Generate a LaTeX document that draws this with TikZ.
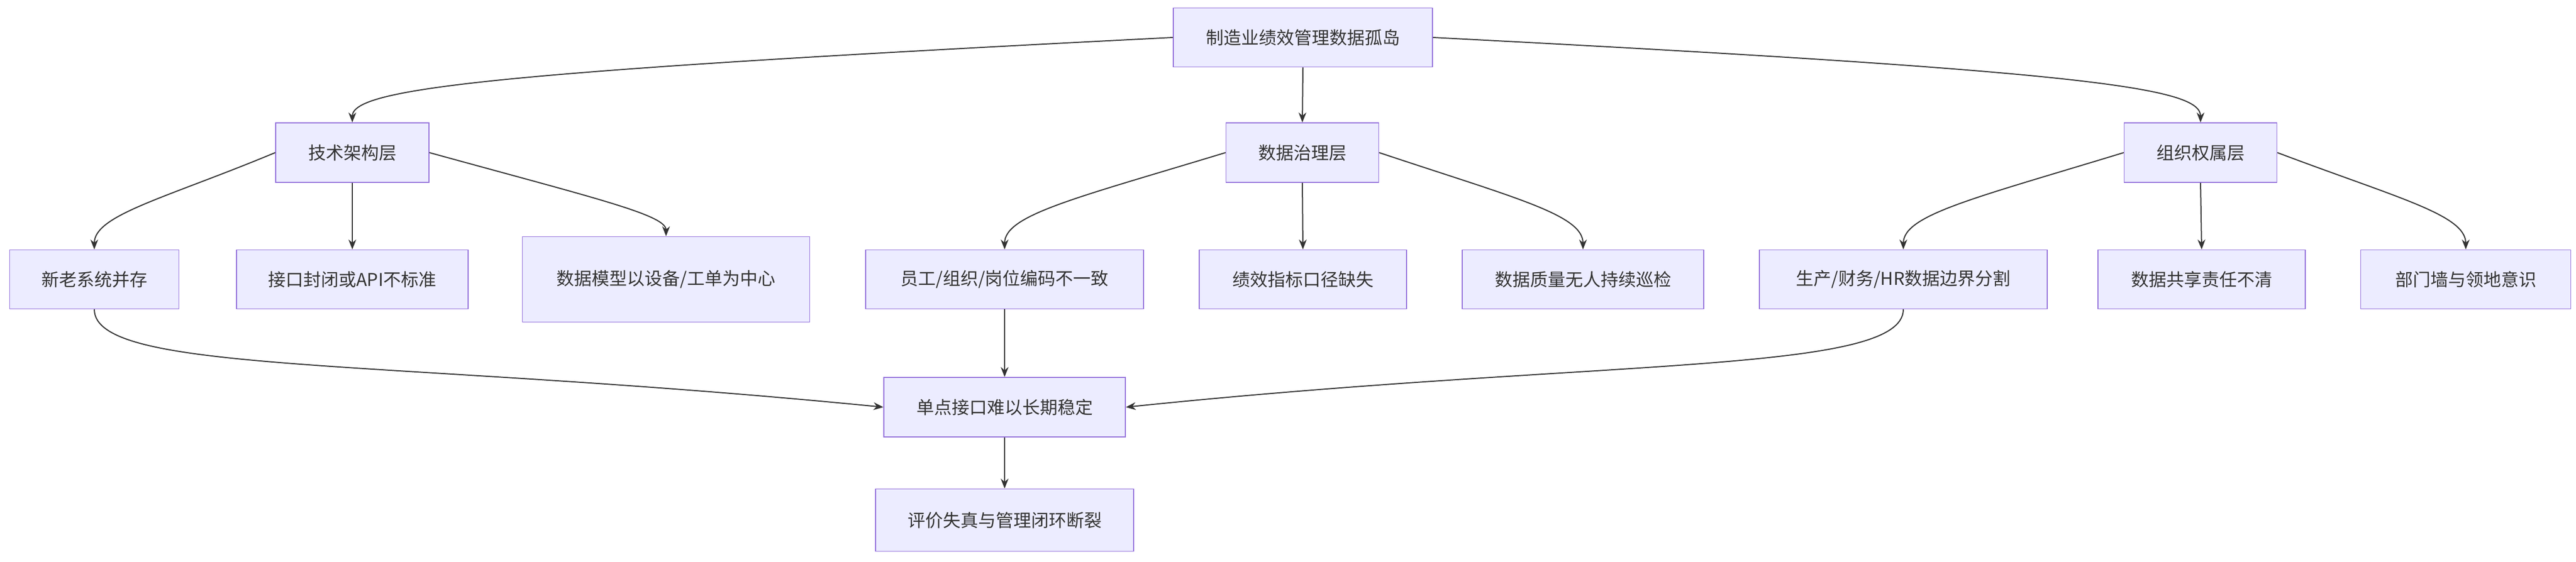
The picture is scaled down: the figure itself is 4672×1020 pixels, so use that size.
\documentclass[tikz,border=0pt]{standalone}
\usepackage{fontspec}
\setmainfont{Noto Sans CJK SC}
\usetikzlibrary{arrows.meta}
\definecolor{nfill}{HTML}{ECECFF}
\definecolor{nline}{HTML}{9370DB}
\definecolor{ink}{HTML}{333333}
\begin{document}
\begin{tikzpicture}[x=0.5pt,y=-0.5pt,
  box/.style={draw=nline,fill=nfill,line width=0.8pt,text=ink,font=\fontsize{16}{24}\selectfont,inner sep=0pt,align=center},
  edge/.style={draw=ink,line width=1pt,-{Stealth[length=9pt,width=7pt]}}]
\useasboundingbox (0,0) rectangle (4672,1020);
\newcommand{\bx}[6]{\node[box,minimum width=#3*0.5pt,minimum height=#4*0.5pt] (#1) at (#2,#5) {#6};}
\bx{root}{2363}{470}{107}{68}{制造业绩效管理数据孤岛}
\bx{a}{639}{278}{108}{277}{技术架构层}
\bx{b}{2362}{277}{108}{277}{数据治理层}
\bx{c}{3991}{277}{108}{277}{组织权属层}
\bx{a1}{171}{307}{107}{507}{新老系统并存}
\bx{a2}{639}{420}{107}{507}{接口封闭或API不标准}
\node[box,minimum width=521*0.5pt,minimum height=155*0.5pt,text width=420*0.5pt] (a3) at (1208,507) {数据模型以设备/工单为中心};
\bx{b1}{1822}{504}{107}{507}{员工/组织/岗位编码不一致}
\bx{b2}{2363}{376}{107}{507}{绩效指标口径缺失}
\bx{b3}{2871}{438}{107}{507}{数据质量无人持续巡检}
\bx{c1}{3452}{522}{107}{507}{生产/财务/HR数据边界分割}
\bx{c2}{3993}{376}{107}{507}{数据共享责任不清}
\bx{c3}{4472}{381}{107}{507}{部门墙与领地意识}
\bx{d}{1822}{438}{108}{739}{单点接口难以长期稳定}
\bx{e}{1822}{468}{113}{944}{评价失真与管理闭环断裂}
\draw[edge] (root.west) .. controls (900,130) and (639,160) .. (a.north);
\draw[edge] (root.south) -- (b.north);
\draw[edge] (root.east) .. controls (3800,130) and (3991,160) .. (c.north);
\draw[edge] (a.west) .. controls (300,360) and (171,390) .. (a1.north);
\draw[edge] (a.south) -- (a2.north);
\draw[edge] (a.east) .. controls (1080,360) and (1208,390) .. (a3.north);
\draw[edge] (b.west) .. controls (1950,360) and (1822,390) .. (b1.north);
\draw[edge] (b.south) -- (b2.north);
\draw[edge] (b.east) .. controls (2750,360) and (2871,390) .. (b3.north);
\draw[edge] (c.west) .. controls (3580,360) and (3452,390) .. (c1.north);
\draw[edge] (c.south) -- (c2.north);
\draw[edge] (c.east) .. controls (4350,360) and (4472,390) .. (c3.north);
\draw[edge] (b1.south) -- (d.north);
\draw[edge] (a1.south) .. controls (171,680) and (700,650) .. (d.west);
\draw[edge] (c1.south) .. controls (3452,680) and (2900,650) .. (d.east);
\draw[edge] (d.south) -- (e.north);
\end{tikzpicture}
\end{document}
